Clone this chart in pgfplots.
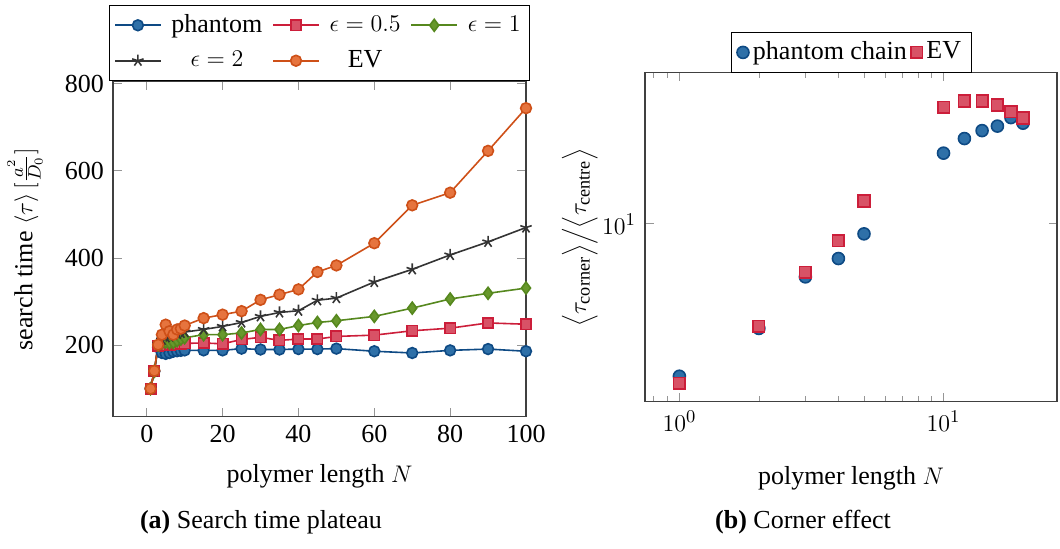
\documentclass[border=0pt]{standalone}
\usepackage{fontspec}
\setmainfont{Liberation Serif}
\usepackage{pgfplots}
\pgfplotsset{compat=1.18}
\definecolor{cblue}{RGB}{46,112,168}
\definecolor{cblueE}{RGB}{14,74,132}
\definecolor{cred}{RGB}{216,82,102}
\definecolor{credE}{RGB}{204,30,58}
\definecolor{cgreen}{RGB}{104,152,44}
\definecolor{cgreenE}{RGB}{86,136,30}
\definecolor{cgray}{RGB}{52,52,52}
\definecolor{corange}{RGB}{230,116,62}
\definecolor{corangeE}{RGB}{206,80,24}
\definecolor{tickgray}{RGB}{150,150,150}
\begin{document}
\fontsize{13}{15.6}\selectfont
\begin{tikzpicture}
\useasboundingbox (0,0) rectangle (530pt,274.5pt);
\begin{axis}[
  at={(56.5pt,66.2pt)}, anchor=south west,
  width=206.5pt, height=167.5pt, scale only axis,
  xmin=-8.9, xmax=100, ymin=36, ymax=805,
  xtick={0,20,40,60,80,100}, ytick={200,400,600,800},
  /pgf/number format/assume math mode=true,
  tick style={tickgray, thin},
  axis line style={black!75, line width=0.6pt},
  xlabel={polymer length $N$},
  ylabel={search time $\langle\tau\rangle\,[\frac{a^2}{D_0}]$},
  xlabel style={at={(axis description cs:0.5,-0.177)}, anchor=center},
  ylabel style={at={(axis description cs:-0.213,0.5)}, anchor=center},
  legend columns=3,
  legend cell align=center,
  legend style={at={(0.5,1)}, anchor=south, yshift=0.5pt, draw=black, fill=white,
     /tikz/every even column/.append style={column sep=3pt},
     /tikz/every odd column/.append style={column sep=3pt},
     inner xsep=2.5pt, inner ysep=2.5pt, row sep=3pt},
  legend image code/.code={\draw[mark repeat=2,mark phase=2] plot coordinates {(0cm,0cm) (0.4cm,0cm) (0.8cm,0cm)};},
  every axis plot/.append style={line width=0.8pt},
]
\addplot[color=cblueE, mark=*, mark size=2.7pt, mark options={fill=cblue, draw=cblueE}] coordinates {
(1,100) (2,140) (3,195) (4,182) (5,180) (6,182) (7,185) (8,186) (9,187) (10,188)
(15,188) (20,188) (25,192) (30,190) (35,190) (40,191) (45,191) (50,192)
(60,186) (70,182) (80,188) (90,191) (100,186)};
\addlegendentry{phantom}
\addplot[color=credE, mark=square*, mark size=2.6pt, mark options={fill=cred, draw=credE}] coordinates {
(1,100) (2,140) (3,199) (4,200) (5,200) (6,201) (7,202) (8,202) (9,203) (10,204)
(15,205) (20,203) (25,213) (30,218) (35,211) (40,214) (45,214) (50,220)
(60,223) (70,233) (80,239) (90,251) (100,248)};
\addlegendentry{$\epsilon = 0.5$}
\addplot[color=cgreenE, mark=diamond*, mark size=3pt, mark options={fill=cgreen, draw=cgreenE}] coordinates {
(1,100) (2,140) (3,200) (4,205) (5,207) (6,205) (7,206) (8,210) (9,214) (10,217)
(15,224) (20,224) (25,228) (30,236) (35,236) (40,245) (45,252) (50,256)
(60,266) (70,285) (80,306) (90,319) (100,331)};
\addlegendentry{$\epsilon = 1$}
\addplot[color=cgray, mark=star, mark size=3pt, mark options={draw=cgray}] coordinates {
(1,100) (2,140) (3,202) (4,212) (5,218) (6,220) (7,224) (8,226) (9,228) (10,230)
(15,236) (20,243) (25,252) (30,266) (35,275) (40,279) (45,303) (50,308)
(60,345) (70,374) (80,407) (90,437) (100,470)};
\addlegendentry{$\epsilon = 2$}
\addplot[color=corangeE, mark=*, mark size=2.7pt, mark options={fill=corange, draw=corangeE}] coordinates {
(1,100) (2,141) (3,201) (4,224) (5,247) (6,232) (7,224) (8,236) (9,238) (10,245)
(15,262) (20,270) (25,278) (30,304) (35,316) (40,328) (45,368) (50,383)
(60,434) (70,521) (80,550) (90,646) (100,744)};
\addlegendentry{EV}
\end{axis}
\begin{loglogaxis}[
  at={(322.5pt,73.6pt)}, anchor=south west,
  width=206pt, height=164.5pt, scale only axis,
  xmin=0.741, xmax=26.9, ymin=2.13, ymax=37.2,
  ytick={10}, minor ytick={},
  tick style={tickgray, thin},
  axis line style={black!75, line width=0.6pt},
  xlabel={polymer length $N$},
  ylabel={$\Bigl\langle\tau_{\mathrm{corner}}\Bigr\rangle\Big/\Bigl\langle\tau_{\mathrm{centre}}\Bigr\rangle$},
  xlabel style={at={(axis description cs:0.5,-0.232)}, anchor=center},
  ylabel style={at={(axis description cs:-0.158,0.5)}, anchor=center},
  legend columns=2,
  legend style={at={(0.5,1)}, anchor=south, draw=black, fill=white,
     inner xsep=3pt, inner ysep=2.5pt, /tikz/every even column/.append style={column sep=0pt}},
  legend image code/.code={\draw plot coordinates {(0cm,0cm)};},
]
\addplot[only marks, mark=*, mark size=3pt, mark options={fill=cblue, draw=cblueE, line width=0.8pt}] coordinates {
(1,2.66) (2,4.03) (3,6.31) (4,7.40) (5,9.17) (10,18.5) (12,21.0) (14,22.5) (16,23.4) (18,25.2) (20,24.0)};
\addlegendentry{phantom chain}
\addplot[only marks, mark=square*, mark size=2.9pt, mark options={fill=cred, draw=credE, line width=0.8pt}] coordinates {
(1,2.50) (2,4.11) (3,6.56) (4,8.65) (5,12.2) (10,27.6) (12,29.1) (14,29.1) (16,28.1) (18,26.5) (20,25.1)};
\addlegendentry{EV}
\end{loglogaxis}
\node at (130.5pt,13.5pt) {\textbf{(a)} Search time plateau};
\node at (401.5pt,13.5pt) {\textbf{(b)} Corner effect};
\end{tikzpicture}
\end{document}
